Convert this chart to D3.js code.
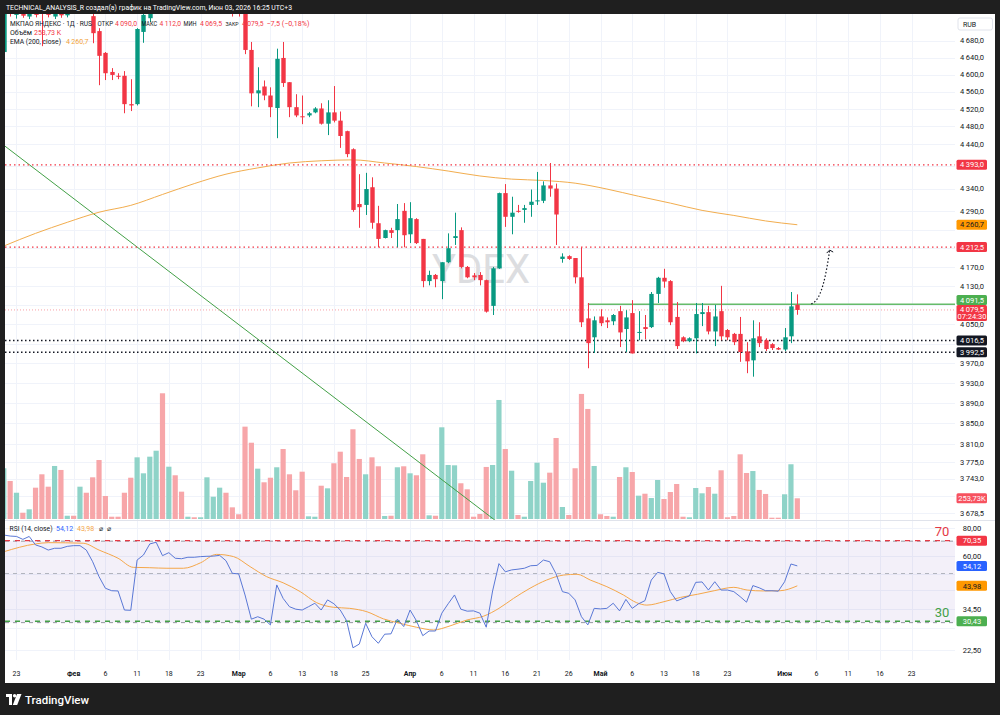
<!DOCTYPE html>
<html><head><meta charset="utf-8">
<script src="https://cdn.jsdelivr.net/npm/d3@7"></script>
<style>body{margin:0;background:#1f1f1f;}svg{display:block}</style>
</head><body><svg id="c" width="1000" height="715"></svg>
<script>
// ---------- DATA ----------
// daily candles [open, high, low, close], index 0 = leftmost visible bar
const candles = [
[4653,4775,4645,4760],[4790,4800,4738,4745],[4742,4790,4733,4775],[4780,4790,4735,4740],[4738,4785,4732,4770],
[4775,4785,4736,4742],[4750,4760,4667,4745],[4770,4780,4736,4742],[4738,4775,4732,4765],[4770,4780,4735,4741],
[4741,4770,4736,4760],[4762,4770,4748,4752],[4752,4795,4745,4790],[4800,4810,4745,4760],[4739,4750,4674,4698],
[4703,4710,4575,4644],[4651,4653,4587,4603],[4606,4615,4587,4599],[4597,4603,4589,4595],[4597,4608,4510,4531],
[4531,4589,4515,4528],[4531,4710,4528,4708],[4701,4750,4675,4742],[4734,4790,4725,4770],[4770,4830,4760,4820],
[4830,4840,4745,4760],[4760,4810,4750,4800],[4800,4810,4760,4770],[4775,4785,4750,4760],[4760,4768,4756,4765],
[4765,4768,4758,4762],[4762,4770,4758,4766],[4766,4805,4760,4800],[4800,4820,4790,4815],[4812,4835,4805,4830],
[4830,4835,4785,4790],[4790,4795,4738,4755],[4760,4770,4738,4748],[4748,4760,4648,4658],[4658,4677,4526,4556],
[4556,4617,4524,4563],[4572,4586,4540,4551],[4551,4570,4501,4524],[4522,4661,4453,4637],[4639,4677,4571,4580],
[4582,4582,4501,4524],[4524,4554,4501,4505],[4503,4551,4485,4501],[4505,4513,4501,4510],[4512,4524,4510,4521],
[4521,4533,4484,4486],[4486,4540,4460,4512],[4512,4573,4489,4493],[4493,4514,4431,4458],[4469,4470,4410,4417],
[4428,4430,4289,4293],[4306,4372,4254,4299],[4304,4375,4282,4339],[4343,4365,4252,4265],[4264,4302,4212,4230],
[4232,4250,4231,4249],[4249,4254,4232,4243],[4249,4306,4212,4273],[4291,4308,4212,4238],[4240,4310,4221,4275],
[4273,4275,4219,4221],[4230,4230,4127,4140],[4140,4162,4131,4153],[4153,4155,4127,4144],[4140,4180,4102,4180],
[4180,4242,4178,4210],[4232,4287,4217,4236],[4249,4255,4167,4170],[4170,4172,4146,4148],[4152,4157,4142,4148],
[4153,4159,4131,4142],[4142,4143,4074,4076],[4088,4170,4069,4167],[4167,4331,4166,4330],[4330,4350,4256,4278],
[4278,4322,4240,4287],[4291,4304,4287,4289],[4293,4304,4265,4297],[4304,4338,4278,4311],[4312,4377,4304,4314],
[4313,4356,4308,4347],[4347,4397,4322,4340],[4340,4351,4217,4283],[4187,4199,4179,4192],[4193,4195,4185,4187],
[4189,4189,4135,4148],[4148,4212,4044,4054],[4062,4094,3960,4011],[4023,4066,3991,4058],[4066,4081,4046,4052],
[4058,4064,4042,4054],[4056,4071,4048,4069],[4077,4088,4003,4033],[4040,4079,3993,4064],[4073,4100,3990,3990],
[4032,4077,4017,4034],[4044,4069,4019,4040],[4044,4117,4042,4113],[4113,4149,4094,4147],[4147,4166,4126,4139],
[4140,4142,4048,4054],[4065,4096,3999,4005],[4023,4025,4013,4015],[4015,4023,4013,4021],[4021,4094,3990,4071],
[4071,4094,4046,4075],[4075,4088,4029,4035],[4035,4090,4005,4066],[4077,4130,4017,4025],[4038,4040,4017,4023],
[4030,4032,4007,4013],[4030,4065,3973,3993],[3994,4013,3950,3974],[3976,4058,3943,4021],[4025,4054,4003,4011],
[4017,4021,3995,3999],[4009,4011,3997,4001],[4001,4003,3997,3998],[3998,4042,3995,4023],[4025,4117,4011,4087],
[4090,4112,4069.5,4079.5]
];
// volume, thousands
const volumes = [
622,466,322,77,119,384,548,396,650,601,40,40,396,322,511,723,282,28,28,322,
506,756,560,764,837,1541,641,536,335,28,21,21,511,273,384,322,143,58,1132,935,
617,450,506,634,858,548,352,580,33,28,408,376,683,825,515,1100,736,548,756,646,
37,40,634,646,560,536,793,45,40,1124,662,658,438,364,28,61,638,662,1459,858,
592,49,28,466,690,445,568,993,147,49,622,1533,1349,650,58,37,28,515,634,576,
286,310,257,478,245,331,429,28,21,380,315,392,310,597,21,37,793,564,588,356,
307,16,16,303,671,253.73
];
// RSI(14)
const rsi = [
74.6,73.8,73.5,71.3,73.5,67.3,65.9,63.8,65.0,65.0,66.3,66.8,66.8,63.8,56.5,48.4,42.9,41.8,41.7,34.2,
34.1,57.5,60.6,68.0,69.2,60.2,62.1,58.6,58.3,59.2,59.2,59.6,59.8,59.9,60.4,57.1,50.1,49.8,40.0,31.1,
31.9,31.1,29.3,44.4,38.6,35.4,34.5,34.2,35.4,36.7,34.2,38.0,36.5,34.2,30.6,23.1,24.0,29.8,25.9,24.2,
26.6,26.7,31.1,28.8,34.2,30.6,26.2,27.5,27.5,33.1,36.5,40.0,34.5,33.8,33.9,33.1,28.6,41.7,55.4,50.9,
51.9,52.3,52.8,54.2,54.4,57.5,56.5,49.8,41.4,40.7,38.0,31.9,29.3,34.8,34.6,34.8,36.7,33.9,38.2,34.8,
36.5,37.7,46.7,50.6,49.8,41.4,37.6,38.6,39.6,45.6,45.8,42.1,45.9,42.1,42.1,41.4,39.3,37.1,44.1,43.1,
41.8,41.8,41.6,45.9,55.2,54.12
];
// RSI moving average [bar index, value]
const rsiMA = [[0,62.7],[5,68.0],[7,68.9],[12.5,68.5],[15,63.8],[18,58.6],[20.4,53.3],[23,53.1],[25.7,52.8],[28.3,52.8],
[31,55.9],[33.5,61.0],[36.2,59.6],[38.8,53.7],[41.4,48.4],[44,45.4],[46.7,41.4],[49.3,36.9],[51.9,35.2],[54.5,34.8],
[57.2,33.6],[59.8,31.2],[62.4,29.8],[65,28.6],[67.7,27.8],[70.3,29.0],[72.9,30.8],[75.6,32.1],[78,34.8],[80.3,38.6],
[82.9,42.9],[85.5,46.7],[88.2,49.2],[90.3,49.6],[92.4,46.7],[95,43.6],[97.6,40.0],[99.7,36.9],[101.3,36.0],[104,37.3],
[106.6,39.0],[109.3,40.3],[111.9,41.8],[115,43.3],[117.1,42.1],[119.7,41.7],[122.3,41.8],[125,43.98]];
// EMA(200) [bar index, value]
const ema200 = [[0,4214.7],[5,4242],[10,4266],[15,4288],[20,4303],[25,4327],[30,4351],[35,4372],[40,4386],[45,4397],
[50,4402],[55,4404],[60,4397],[65,4389],[70,4379],[75,4368],[80,4361],[85,4358],[90,4352],[95,4339],[100,4323],
[105,4308],[110,4292],[115,4281],[120,4269],[125,4260.7]];
// time axis labels [bar index, label, isMonth]
const timeTicks = [[2,"23",0],[11,"Фев",1],[16,"6",0],[21,"11",0],[26,"18",0],[31,"23",0],[37,"Мар",1],[42,"6",0],
[47,"13",0],[52,"18",0],[57,"25",0],[64,"Апр",1],[69,"6",0],[74,"11",0],[79,"16",0],[84,"21",0],[89,"26",0],
[94,"Май",1],[99,"6",0],[104,"13",0],[109,"18",0],[114,"23",0],[123,"Июн",1],[128,"6",0],[133,"11",0],[138,"16",0],[143,"23",0]];
const priceTicks = [4680,4640,4600,4560,4520,4480,4440,4390,4340,4290,4250,4210,4170,4130,4090,4050,4010,3970,3930,3890,3850,3810,3775,3743,3710,3678.5];
const rsiTicks = [80,60,50,42,34.5,28.5,22.5];
// drawn levels
const resistLevels = [4393,4212.5];
const supportLevels = [4016.5,3992.5];
const breakoutLevel = {start:92, price:4091.5};
const trendLine = [[0,4437],[79,3650]];
const arrowPath = [[127.2,4092],[128.9,4099],[129.6,4160],[130.1,4206]];
const lastPrice = 4079.5, lastVolume = 253.73, lastEMA = 4260.7;
const rsiLevels = {upper:70, lower:30, mid:50, userUp:70.35, userLow:30.43};

// ---------- SETUP ----------
const svg = d3.select('#c');
const PL=5, PR=955, MT=14, MB=520, RT=521, RB=660;
const FONT = 'Roboto, "Noto Sans", sans-serif';
const UP='#089981', DN='#f23645';
const x = d3.scaleLinear().domain([0,125]).range([3.8,797.3]);
const yP = d3.scaleLog().domain([4680,3970]).range([40.7,363.3]);
const yV = d3.scaleLinear().domain([0,lastVolume]).range([519,498.3]);
const yR = d3.scaleLog().domain([80,22.5]).range([528.3,650.3]);
const thin='\u2009';
function fmt(v,d=1){let s=v.toFixed(d).split('.');let a=s[0];if(a.length>3)a=a.slice(0,a.length-3)+thin+a.slice(-3);return a+','+s[1];}

// backgrounds
svg.append('rect').attr('width',1000).attr('height',715).attr('fill','#1f1f1f');
svg.append('rect').attr('x',5).attr('y',14).attr('width',990).attr('height',669).attr('fill','#ffffff');
svg.append('text').attr('x',6).attr('y',10).attr('fill','#fff').attr('font-family',FONT).attr('font-size',7.2)
  .attr('textLength',286).attr('lengthAdjust','spacingAndGlyphs')
  .text('TECHNICAL_ANALYSIS_R создал(а) график на TradingView.com, Июн 03, 2026 16:25 UTC+3');

const defs = svg.append('defs');
defs.append('clipPath').attr('id','cm').append('rect').attr('x',PL).attr('y',MT).attr('width',PR-PL).attr('height',MB-MT);
defs.append('clipPath').attr('id','cr').append('rect').attr('x',PL).attr('y',RT).attr('width',PR-PL).attr('height',RB-RT);

// grid
const grid = svg.append('g').attr('stroke','#f0f3fa').attr('stroke-width',1);
timeTicks.forEach(t=>{const xx=Math.round(x(t[0]))+0.5; grid.append('line').attr('x1',xx).attr('x2',xx).attr('y1',MT).attr('y2',RB);});
priceTicks.forEach(p=>{const yy=Math.round(yP(p))+0.5; if(yy<MB) grid.append('line').attr('x1',PL).attr('x2',PR).attr('y1',yy).attr('y2',yy);});
rsiTicks.forEach(p=>{const yy=Math.round(yR(p))+0.5; grid.append('line').attr('x1',PL).attr('x2',PR).attr('y1',yy).attr('y2',yy);});

// RSI band
svg.append('rect').attr('x',PL).attr('width',PR-PL).attr('y',yR(rsiLevels.upper)).attr('height',yR(rsiLevels.lower)-yR(rsiLevels.upper)).attr('fill','rgba(126,87,194,0.09)');

const gm = svg.append('g').attr('clip-path','url(#cm)');
// watermark
gm.append('text').attr('x',481).attr('y',283).attr('text-anchor','middle').attr('font-family',FONT).attr('font-size',40)
  .attr('fill','#dcdde0').text('YDEX');

// volume
gm.selectAll('rect.v').data(volumes).join('rect').attr('class','v')
  .attr('x',(d,i)=>x(i)-2.6).attr('width',5.2).attr('y',d=>yV(d)).attr('height',d=>yV(0)-yV(d))
  .attr('fill',(d,i)=>candles[i][3]>=candles[i][0]?'#8fd3c8':'#f7a6a9');

// trend line
gm.append('line').attr('x1',x(trendLine[0][0])).attr('y1',yP(trendLine[0][1])).attr('x2',x(trendLine[1][0])).attr('y2',yP(trendLine[1][1]))
  .attr('stroke','#43a047').attr('stroke-width',1);
// EMA
gm.append('path').datum(ema200).attr('fill','none').attr('stroke','#f2ad4e').attr('stroke-width',1)
  .attr('d',d3.line().x(d=>x(d[0])).y(d=>yP(d[1])).curve(d3.curveMonotoneX));
// levels
resistLevels.forEach(p=>gm.append('line').attr('x1',PL).attr('x2',PR).attr('y1',yP(p)).attr('y2',yP(p)).attr('stroke','#f23645').attr('stroke-width',1.2).attr('stroke-dasharray','1.5 3'));
supportLevels.forEach(p=>gm.append('line').attr('x1',PL).attr('x2',PR).attr('y1',yP(p)).attr('y2',yP(p)).attr('stroke','#131722').attr('stroke-width',1.5).attr('stroke-dasharray','1.5 2.5'));
gm.append('line').attr('x1',PL).attr('x2',PR).attr('y1',yP(lastPrice)).attr('y2',yP(lastPrice)).attr('stroke','#f7a0a6').attr('stroke-width',1).attr('stroke-dasharray','1 2');
gm.append('line').attr('x1',x(breakoutLevel.start)).attr('x2',PR).attr('y1',yP(breakoutLevel.price)).attr('y2',yP(breakoutLevel.price)).attr('stroke','#66bb6a').attr('stroke-width',1.5);
// arrow
const ap = arrowPath.map(d=>[x(d[0]),yP(d[1])]);
gm.append('path').attr('d',`M${ap[0]}C${ap[1]} ${ap[2]} ${ap[3]}`).attr('fill','none').attr('stroke','#131722').attr('stroke-width',1.2).attr('stroke-dasharray','1.5 2');
const e=ap[3];
gm.append('path').attr('d',`M${e[0]-3},${e[1]+3}L${e[0]},${e[1]}L${e[0]+3.5},${e[1]+2}`).attr('fill','none').attr('stroke','#131722').attr('stroke-width',1);

// candles
const cg = gm.append('g');
candles.forEach((c,i)=>{
  const [o,h,l,cl]=c; const col = cl>=o?UP:DN; const xx=Math.round(x(i))+0.5;
  cg.append('line').attr('x1',xx).attr('x2',xx).attr('y1',yP(h)).attr('y2',yP(l)).attr('stroke',col).attr('stroke-width',1);
  const t=yP(Math.max(o,cl)), b=yP(Math.min(o,cl));
  cg.append('rect').attr('x',xx-2.2).attr('width',4.4).attr('y',t).attr('height',Math.max(1,b-t)).attr('fill',col);
});

// RSI pane
const gr = svg.append('g').attr('clip-path','url(#cr)');
gr.append('line').attr('x1',PL).attr('x2',PR).attr('y1',yR(rsiLevels.mid)).attr('y2',yR(rsiLevels.mid)).attr('stroke','#b2b5be').attr('stroke-dasharray','4 4');
gr.append('line').attr('x1',PL).attr('x2',PR).attr('y1',yR(rsiLevels.upper)).attr('y2',yR(rsiLevels.upper)).attr('stroke','#9598a1').attr('stroke-dasharray','4 4');
gr.append('line').attr('x1',PL).attr('x2',PR).attr('y1',yR(rsiLevels.lower)).attr('y2',yR(rsiLevels.lower)).attr('stroke','#9598a1').attr('stroke-dasharray','4 4');
gr.append('line').attr('x1',PL).attr('x2',PR).attr('y1',yR(rsiLevels.userUp)).attr('y2',yR(rsiLevels.userUp)).attr('stroke','#e53945').attr('stroke-width',1.3).attr('stroke-dasharray','5 5');
gr.append('line').attr('x1',PL).attr('x2',PR).attr('y1',yR(rsiLevels.userLow)).attr('y2',yR(rsiLevels.userLow)).attr('stroke','#43a047').attr('stroke-width',1.3).attr('stroke-dasharray','5 5');
gr.append('path').datum(rsiMA).attr('fill','none').attr('stroke','#f5a74a').attr('stroke-width',1)
  .attr('d',d3.line().x(d=>x(d[0])).y(d=>yR(d[1])).curve(d3.curveMonotoneX));
gr.append('path').datum(rsi).attr('fill','none').attr('stroke','#5a78d6').attr('stroke-width',1)
  .attr('d',d3.line().x((d,i)=>x(i)).y(d=>yR(d)));
svg.append('text').attr('x',942).attr('y',yR(rsiLevels.userUp)-5).attr('text-anchor','middle').attr('font-family',FONT).attr('font-size',13).attr('fill','#e53945').text('70');
svg.append('text').attr('x',942).attr('y',yR(rsiLevels.userLow)-4).attr('text-anchor','middle').attr('font-family',FONT).attr('font-size',13).attr('fill','#43a047').text('30');

// separators
svg.append('line').attr('x1',PL).attr('x2',995).attr('y1',520.5).attr('y2',520.5).attr('stroke','#e0e3eb');

// badges (positions first, to keep axis labels from colliding)
const AX=972;
const lpTop = yP(lastPrice)-5;
const badges = [
  {y:yP(resistLevels[0]),t:fmt(resistLevels[0]),f:'#f23645',c:'#fff'},
  {y:yP(lastEMA),t:fmt(lastEMA),f:'#ff9800',c:'#131722'},
  {y:yP(resistLevels[1]),t:fmt(resistLevels[1]),f:'#f23645',c:'#fff'},
  {y:Math.min(yP(breakoutLevel.price),lpTop-5),t:fmt(breakoutLevel.price),f:'#4caf50',c:'#fff'},
  {y:lpTop+8,t:fmt(lastPrice),t2:'07:24:30',h:16,f:'#f23645',c:'#fff'},
  {y:yP(supportLevels[0]),t:fmt(supportLevels[0]),f:'#131722',c:'#fff'},
  {y:yP(supportLevels[1]),t:fmt(supportLevels[1]),f:'#131722',c:'#fff'},
  {y:yV(lastVolume),t:fmt(lastVolume,2)+'K',f:'#f7525f',c:'#fff'},
  {y:yR(rsiLevels.userUp),t:fmt(rsiLevels.userUp,2),f:'#f23645',c:'#fff'},
  {y:yR(rsi[rsi.length-1]),t:fmt(rsi[rsi.length-1],2),f:'#2962ff',c:'#fff'},
  {y:yR(rsiMA[rsiMA.length-1][1]),t:fmt(rsiMA[rsiMA.length-1][1],2),f:'#ff9800',c:'#131722'},
  {y:yR(rsiLevels.userLow),t:fmt(rsiLevels.userLow,2),f:'#4caf50',c:'#fff'}
];
badges.forEach(b=>{b.h=b.h||10;});
function free(yc){return !badges.some(b=>(yc-3.5)<(b.y+b.h/2-0.6)&&(yc+3.5)>(b.y-b.h/2+0.6));}

// axis labels
const ax = svg.append('g').attr('font-family',FONT).attr('font-size',7.5).attr('fill','#131722').attr('text-anchor','middle');
priceTicks.forEach(p=>{const yy=yP(p); if(free(yy)) ax.append('text').attr('x',AX).attr('y',yy+2.7).text(fmt(p));});
rsiTicks.forEach(p=>{const yy=yR(p); if(free(yy)) ax.append('text').attr('x',AX).attr('y',yy+2.7).text(fmt(p,2));});
timeTicks.forEach(t=>ax.append('text').attr('x',x(t[0])).attr('y',676).attr('font-size',7).attr('font-weight',t[2]?700:400).text(t[1]));
svg.append('rect').attr('x',958).attr('y',18).attr('width',34.5).attr('height',12).attr('rx',2).attr('fill','#fff').attr('stroke','#e0e3eb');
svg.append('text').attr('x',963).attr('y',26.6).attr('font-family',FONT).attr('font-size',7).attr('fill','#131722').text('RUB');

badges.forEach(b=>{
  const g=svg.append('g');
  g.append('rect').attr('x',956.5).attr('y',b.y-b.h/2).attr('width',30.5).attr('height',b.h).attr('rx',1.5).attr('fill',b.f);
  if(!b.t2){g.append('text').attr('x',AX).attr('y',b.y+2.7).attr('text-anchor','middle').attr('font-family',FONT).attr('font-size',7.5).attr('fill',b.c).text(b.t);}
  else{g.append('text').attr('x',AX).attr('y',b.y-b.h/2+7.3).attr('text-anchor','middle').attr('font-family',FONT).attr('font-size',7.5).attr('fill',b.c).text(b.t);
       g.append('text').attr('x',AX).attr('y',b.y-b.h/2+14.3).attr('text-anchor','middle').attr('font-family',FONT).attr('font-size',7.5).attr('fill',b.c).text(b.t2);}
});

// legends
const lg = svg.append('g').attr('font-family',FONT).attr('font-size',7);
function seg(xp,yp,txt,col,len,fs){const t=lg.append('text').attr('x',xp).attr('y',yp).attr('fill',col).text(txt); if(fs) t.attr('font-size',fs); if(len) t.attr('textLength',len).attr('lengthAdjust','spacingAndGlyphs');}
const RED='#f23645', DK='#131722';
const last=candles[candles.length-1], prev=candles[candles.length-2];
seg(10,25.8,'МКПАО ЯНДЕКС · 1Д · RUS',DK,82);
seg(97.5,25.8,'ОТКР',DK,15.5); seg(115,25.8,fmt(last[0]),RED,22);
seg(141.5,25.8,'МАКС',DK,15.5); seg(159.5,25.8,fmt(last[1]),RED,21.5);
seg(183.5,25.8,'МИН',DK,13); seg(200,25.8,fmt(last[2]),RED,22);
seg(225.5,25.8,'ЗАКР',DK,13,6.2); seg(242,25.8,fmt(last[3]),RED,21.5);
const ch=last[3]-prev[3];
seg(266.5,25.8,'\u2212'+fmt(Math.abs(ch))+' (\u2212'+fmt(Math.abs(ch/prev[3]*100),2)+'%)',RED,43);
seg(10,35,'Объём',DK); seg(34,35,fmt(lastVolume,2)+' K',RED);
seg(10,44.2,'EMA (200, close)',DK,51); seg(66,44.2,fmt(lastEMA),'#f2a33a');
seg(9.5,530.8,'RSI (14, close)',DK,43); seg(56,530.8,fmt(rsi[rsi.length-1],2),'#2962ff');
seg(77,530.8,fmt(rsiMA[rsiMA.length-1][1],2),'#f5a74a');
seg(99,530.8,'\u2300',DK); seg(106.5,530.8,'\u2300',DK);

// TradingView logo
const lgo=svg.append('g').attr('fill','#fff');
lgo.append('rect').attr('x',6).attr('y',694).attr('width',6).attr('height',3);
lgo.append('rect').attr('x',9).attr('y',694).attr('width',3).attr('height',11);
lgo.append('circle').attr('cx',14.6).attr('cy',695.8).attr('r',1.7);
lgo.append('path').attr('d','M17,694L21.5,694L17.2,705L12.8,705Z');
svg.append('text').attr('x',25).attr('y',703.5).attr('font-family',FONT).attr('font-size',11.5).attr('font-weight',500).attr('fill','#fff').text('TradingView');
</script></body></html>
